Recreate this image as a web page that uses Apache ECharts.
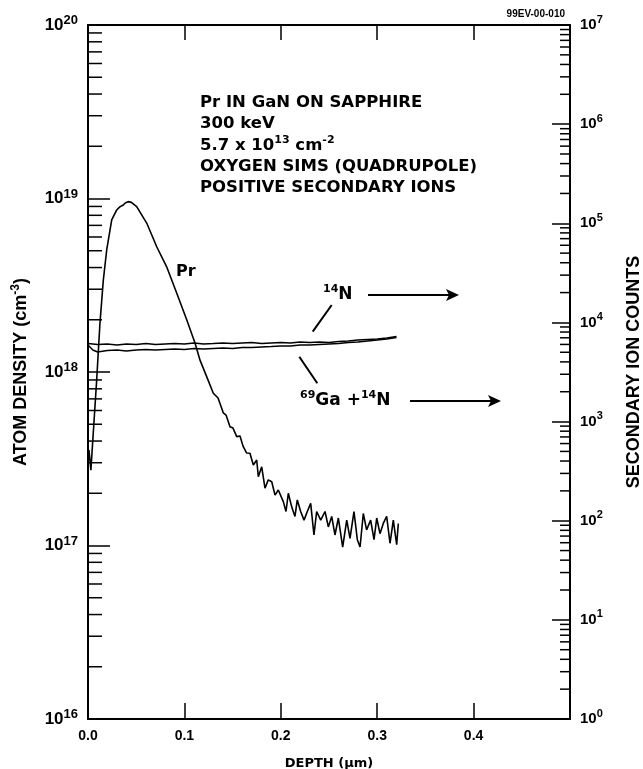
<!DOCTYPE html>
<html>
<head>
<meta charset="utf-8">
<script src="https://cdn.jsdelivr.net/npm/echarts@6/dist/echarts.min.js"></script>
<style>
  html, body { margin: 0; padding: 0; background: #fff; }
  #chart { width: 643px; height: 769px; }
</style>
</head>
<body>
<div id="chart"></div>
<script>
const FONT = '"Liberation Sans", Arial, sans-serif';
const WIDE = '"DejaVu Sans", sans-serif';

// x axis
const depthMin = 0;
const depthMax = 0.5;
const depthTickLabels = ['0.0', '0.1', '0.2', '0.3', '0.4'];

// Pr profile (atom density, cm-3) - left axis
const prDepth = [
  0.001, 0.003, 0.005, 0.009, 0.0124, 0.0159, 0.0194, 0.0246, 0.0298, 0.033,
  0.0366, 0.039, 0.0418, 0.045, 0.0505, 0.0609, 0.0713, 0.0816, 0.092, 0.1024,
  0.111, 0.1162, 0.1231, 0.130, 0.1349, 0.1404, 0.1432, 0.1473, 0.1504, 0.1543,
  0.1577, 0.1608, 0.1646, 0.168, 0.1715, 0.175, 0.1767, 0.1802, 0.1836, 0.187,
  0.1906, 0.194, 0.1974, 0.2026, 0.2054, 0.2078, 0.2113, 0.2147, 0.2171, 0.2206,
  0.2241, 0.2275, 0.231, 0.2344, 0.2372, 0.2414, 0.2459, 0.2493, 0.2528, 0.2562,
  0.2597, 0.2642, 0.2684, 0.2718, 0.2759, 0.2794, 0.2822, 0.2856, 0.289, 0.2932,
  0.2967, 0.2995, 0.3029, 0.3063, 0.3098, 0.3133, 0.3167, 0.3202, 0.3219
];
const prDensity = [
  3.55e17, 2.72e17, 4.06e17, 9.0e17, 1.91e18, 3.39e18, 5.05e18, 7.52e18, 8.59e18, 8.95e18,
  9.18e18, 9.45e18, 9.59e18, 9.5e18, 8.97e18, 7.22e18, 5.27e18, 4.04e18, 2.85e18, 2.0e18,
  1.47e18, 1.17e18, 9.4e17, 7.54e17, 7.08e17, 5.81e17, 5.65e17, 4.84e17, 4.75e17, 4.24e17,
  4.28e17, 3.74e17, 3.41e17, 3.40e17, 2.91e17, 3.11e17, 2.49e17, 2.84e17, 2.14e17, 2.39e17,
  2.33e17, 1.95e17, 2.09e17, 1.79e17, 1.57e17, 2.0e17, 1.67e17, 1.47e17, 1.83e17, 1.57e17,
  1.40e17, 1.57e17, 1.75e17, 1.15e17, 1.57e17, 1.40e17, 1.57e17, 1.28e17, 1.47e17, 1.15e17,
  1.44e17, 0.98e17, 1.40e17, 1.10e17, 1.57e17, 1.08e17, 0.98e17, 1.53e17, 1.23e17, 1.40e17,
  1.08e17, 1.44e17, 1.17e17, 1.34e17, 1.47e17, 1.03e17, 1.40e17, 1.01e17, 1.34e17
];

// secondary ion counts - right axis
const nDepth = [
  0, 0.005, 0.01, 0.02, 0.03, 0.04, 0.05, 0.06, 0.07, 0.08, 0.09, 0.10, 0.11, 0.12,
  0.13, 0.14, 0.15, 0.16, 0.17, 0.18, 0.19, 0.20, 0.21, 0.22, 0.23, 0.24, 0.25, 0.26,
  0.27, 0.28, 0.29, 0.30, 0.31, 0.32
];
const n14Counts = [
  6120, 6050, 5980, 6050, 5910, 6050, 5980, 6120, 5980, 6050, 6120, 6050, 6200, 6050,
  6120, 6200, 6120, 6200, 6270, 6120, 6200, 6270, 6200, 6350, 6270, 6350, 6270, 6430,
  6500, 6650, 6730, 6810, 6980, 7210
];
const ga69n14Counts = [
  5910, 5270, 5030, 5210, 5270, 5150, 5270, 5330, 5270, 5330, 5390, 5330, 5460, 5390,
  5460, 5520, 5460, 5600, 5580, 5650, 5710, 5780, 5780, 5910, 5910, 5980, 6050, 6120,
  6270, 6350, 6500, 6650, 6810, 7050
];

// axis decades and minor tick multipliers
const leftDecades = [16, 17, 18, 19];
const rightDecades = [0, 1, 2, 3, 4, 5, 6];
const minorSteps = [2, 3, 4, 5, 6, 7, 8, 9];

const minorVals = (decades) => {
  const out = [];
  decades.forEach((e) => minorSteps.forEach((m) => out.push(m * Math.pow(10, e))));
  return out;
};

const supRich = (size, lh, family) => ({
  s: { fontSize: size, fontWeight: 'bold', fontFamily: family || FONT, color: '#000', verticalAlign: 'top', lineHeight: lh },
});

const expLabel = (v) => '10{s|' + Math.round(Math.log10(v)) + '}';

// minor ticks (2..9 per decade) on a log axis, drawn inward from the plot edge
const tickSeries = (name, yIndex, side, vals, len) => ({
  name: name,
  type: 'custom',
  yAxisIndex: yIndex,
  clip: false,
  data: vals.map((v) => [depthMin, v]),
  renderItem: (params, api) => {
    const cs = params.coordSys;
    const p = api.coord([api.value(0), api.value(1)]);
    const x0 = side === 'right' ? cs.x + cs.width : p[0];
    const dx = side === 'right' ? -len : len;
    return {
      type: 'line',
      shape: { x1: x0, y1: p[1], x2: x0 + dx, y2: p[1] },
      style: { stroke: '#000', lineWidth: 1.5 },
    };
  },
});

const chart = echarts.init(document.getElementById('chart'));

const option = {
  animation: false,
  backgroundColor: '#fff',
  title: {
    left: 200,
    top: 92,
    padding: 0,
    text: 'Pr IN GaN ON SAPPHIRE\n300 keV\n5.7 x 10{s|13} cm{s|-2}\nOXYGEN SIMS (QUADRUPOLE)\nPOSITIVE SECONDARY IONS',
    textStyle: {
      fontFamily: WIDE,
      fontSize: 16.5,
      fontWeight: 'bold',
      color: '#000',
      lineHeight: 21.3,
      rich: supRich(11, 9, WIDE),
    },
  },
  grid: { left: 88, right: 73, top: 25, bottom: 50, outerBoundsMode: 'none' },
  xAxis: [
    {
      type: 'value',
      min: depthMin,
      max: depthMax,
      interval: 0.1,
      axisLine: { onZero: false, lineStyle: { color: '#000', width: 2 } },
      axisTick: { inside: true, length: 16, lineStyle: { color: '#000', width: 1.5 } },
      axisLabel: {
        color: '#000',
        fontFamily: FONT,
        fontSize: 14,
        fontWeight: 'bold',
        margin: 10,
        formatter: (v) => depthTickLabels[Math.round(v * 10)] || '',
      },
      splitLine: { show: false },
      name: 'DEPTH (µm)',
      nameLocation: 'middle',
      nameGap: 38,
      nameTextStyle: { color: '#000', fontFamily: WIDE, fontSize: 13, fontWeight: 'bold' },
    },
    {
      type: 'value',
      position: 'top',
      min: depthMin,
      max: depthMax,
      interval: 0.1,
      axisLine: { onZero: false, lineStyle: { color: '#000', width: 2 } },
      axisTick: { inside: true, length: 15, lineStyle: { color: '#000', width: 1.5 } },
      axisLabel: { show: false },
      splitLine: { show: false },
    },
  ],
  yAxis: [
    {
      type: 'log',
      logBase: 10,
      min: 1e16,
      max: 1e20,
      axisLine: { show: true, onZero: false, lineStyle: { color: '#000', width: 2 } },
      axisTick: { show: true, inside: true, length: 22, lineStyle: { color: '#000', width: 1.5 } },
      axisLabel: {
        color: '#000',
        fontFamily: FONT,
        fontSize: 17,
        fontWeight: 'bold',
        lineHeight: 22,
        margin: 10,
        formatter: expLabel,
        rich: supRich(13, 10),
      },
      splitLine: { show: false },
      name: 'ATOM DENSITY (cm{s|-3})',
      nameLocation: 'middle',
      nameRotate: 90,
      nameGap: 56,
      nameTextStyle: {
        color: '#000',
        fontFamily: FONT,
        fontSize: 18,
        fontWeight: 'bold',
        lineHeight: 22,
        rich: supRich(12, 10),
      },
    },
    {
      type: 'log',
      logBase: 10,
      min: 1,
      max: 1e7,
      position: 'right',
      axisLine: { show: true, onZero: false, lineStyle: { color: '#000', width: 2 } },
      axisTick: { show: true, inside: true, length: 18, lineStyle: { color: '#000', width: 1.5 } },
      axisLabel: {
        color: '#000',
        fontFamily: FONT,
        fontSize: 15,
        fontWeight: 'bold',
        lineHeight: 22,
        margin: 10,
        formatter: expLabel,
        rich: supRich(11, 10),
      },
      splitLine: { show: false },
      name: 'SECONDARY ION COUNTS',
      nameLocation: 'middle',
      nameRotate: 90,
      nameGap: 55,
      nameTextStyle: { color: '#000', fontFamily: FONT, fontSize: 18, fontWeight: 'bold' },
    },
  ],
  graphic: [
    { type: 'text', x: 565, y: 14, style: { text: '99EV-00-010', fontFamily: FONT, fontSize: 10, fontWeight: 'bold', fill: '#000', align: 'right', verticalAlign: 'middle' } },
    { type: 'text', x: 176, y: 272, style: { text: 'Pr', fontFamily: WIDE, fontSize: 16, fontWeight: 'bold', fill: '#000', verticalAlign: 'middle' } },
    {
      type: 'text', x: 323, y: 295,
      style: {
        text: '{s|14}N', fontFamily: WIDE, fontSize: 17, fontWeight: 'bold', fill: '#000',
        lineHeight: 22, verticalAlign: 'middle', rich: supRich(11, 9, WIDE),
      },
    },
    {
      type: 'text', x: 300, y: 401,
      style: {
        text: '{s|69}Ga +{s|14}N', fontFamily: WIDE, fontSize: 17, fontWeight: 'bold', fill: '#000',
        lineHeight: 22, verticalAlign: 'middle', rich: supRich(11, 9, WIDE),
      },
    },
    { type: 'line', shape: { x1: 368, y1: 295, x2: 450, y2: 295 }, style: { stroke: '#000', lineWidth: 2 } },
    { type: 'polygon', shape: { points: [[459, 295], [446, 289], [449, 295], [446, 301]] }, style: { fill: '#000' } },
    { type: 'line', shape: { x1: 410, y1: 401, x2: 492, y2: 401 }, style: { stroke: '#000', lineWidth: 2 } },
    { type: 'polygon', shape: { points: [[501, 401], [488, 395], [491, 401], [488, 407]] }, style: { fill: '#000' } },
    { type: 'line', shape: { x1: 331.7, y1: 305, x2: 312.7, y2: 331.7 }, style: { stroke: '#000', lineWidth: 2 } },
    { type: 'line', shape: { x1: 299.3, y1: 356.7, x2: 317.3, y2: 383.3 }, style: { stroke: '#000', lineWidth: 2 } },
  ],
  series: [
    {
      name: 'Pr',
      type: 'line',
      yAxisIndex: 0,
      symbol: 'none',
      lineStyle: { color: '#000', width: 1.6 },
      data: prDepth.map((d, i) => [d, prDensity[i]]),
    },
    {
      name: '14N',
      type: 'line',
      yAxisIndex: 1,
      symbol: 'none',
      lineStyle: { color: '#000', width: 1.5 },
      data: nDepth.map((d, i) => [d, n14Counts[i]]),
    },
    {
      name: '69Ga+14N',
      type: 'line',
      yAxisIndex: 1,
      symbol: 'none',
      lineStyle: { color: '#000', width: 1.5 },
      data: nDepth.map((d, i) => [d, ga69n14Counts[i]]),
    },
    tickSeries('minorLeft', 0, 'left', minorVals(leftDecades), 14),
    tickSeries('minorRight', 1, 'right', minorVals(rightDecades), 10),
  ],
};

chart.setOption(option);
</script>
</body>
</html>
